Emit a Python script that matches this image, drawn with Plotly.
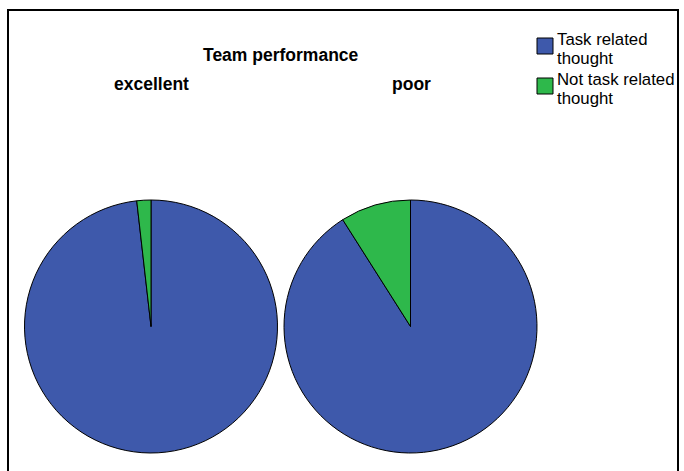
import plotly.graph_objects as go

# Share of thought types by team performance (%)
labels = ["Task related<br>thought", "Not task related<br>thought"]
excellent = [98.2, 1.8]
poor = [91.0, 9.0]
groups = ["excellent", "poor"]
colors = ["#3E59AB", "#2EB84B"]

W, H = 684, 471

def px_x(v):
    return v / W

def px_y(v):
    return 1 - v / H

fig = go.Figure()
for name, vals, (x0, x1) in [("excellent", excellent, (24, 278)),
                             ("poor", poor, (284, 537))]:
    fig.add_trace(go.Pie(
        labels=labels, values=vals, name=name,
        sort=False, direction="clockwise", rotation=0,
        textinfo="none", hoverinfo="label+percent", showlegend=False,
        marker=dict(colors=colors, line=dict(color="black", width=1)),
        domain=dict(x=[px_x(x0), px_x(x1)], y=[px_y(453), px_y(200)]),
    ))

# outer frame
fig.add_shape(type="rect", xref="paper", yref="paper",
              x0=px_x(8), x1=px_x(678), y0=px_y(490), y1=px_y(10),
              line=dict(color="black", width=2), layer="below")

def text(t, x, y, size, xanchor="center"):
    fig.add_annotation(text=t, x=px_x(x), y=px_y(y), xref="paper", yref="paper",
                       xanchor=xanchor, yanchor="middle", showarrow=False,
                       borderpad=0, font=dict(size=size, color="black"))

text("<b>Team performance</b>", 281, 55, 17.5)
for g, cx in zip(groups, [151, 411]):
    text(f"<b>{g}</b>", cx, 84, 17.5)

# legend: swatch plus two tightly spaced text lines per entry
for i, (lab, col) in enumerate(zip(labels, colors)):
    top = 38 + 40 * i
    fig.add_shape(type="rect", xref="paper", yref="paper",
                  x0=px_x(537), x1=px_x(553), y0=px_y(top + 16), y1=px_y(top),
                  fillcolor=col, line=dict(color="black", width=1))
    for j, line in enumerate(lab.split("<br>")):
        text(line, 556, top + 1.5 + 19 * j, 16.8, xanchor="left")

fig.update_layout(
    width=W, height=H,
    margin=dict(l=0, r=0, t=0, b=0),
    paper_bgcolor="white", plot_bgcolor="white",
    font=dict(family="Liberation Sans, Arial, sans-serif", size=17, color="black"),
    showlegend=False,
)

fig.write_html("out.html")
